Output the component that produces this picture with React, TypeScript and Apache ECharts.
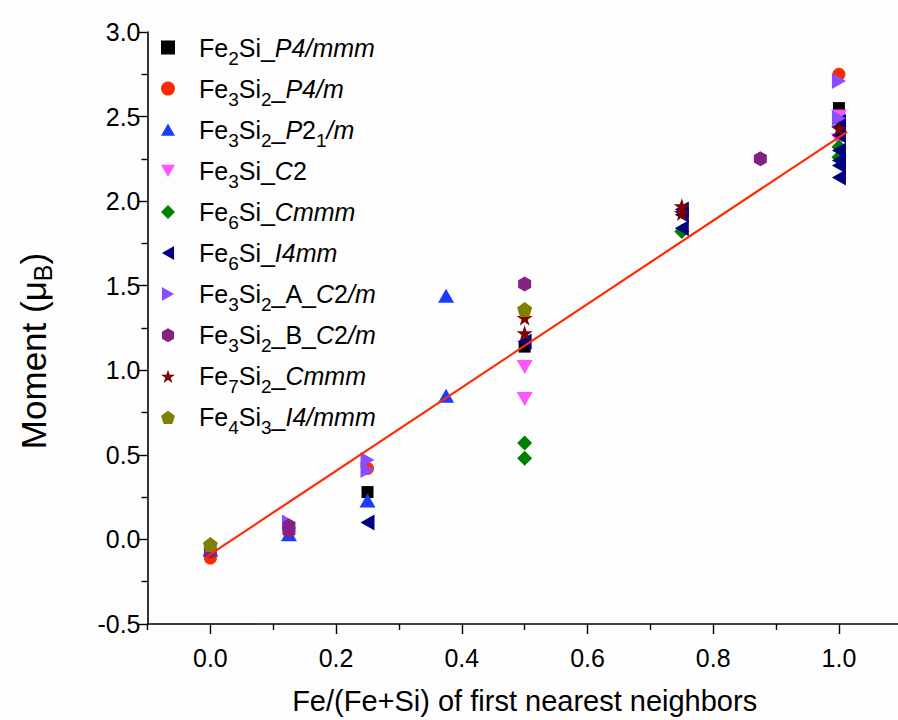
import React, { useEffect, useRef } from "react";
import * as echarts from "echarts";

const seriesNames = [
  "Fe2Si_P4/mmm",
  "Fe3Si2_P4/m",
  "Fe3Si2_P21/m",
  "Fe3Si_C2",
  "Fe6Si_Cmmm",
  "Fe6Si_I4mm",
  "Fe3Si2_A_C2/m",
  "Fe3Si2_B_C2/m",
  "Fe7Si2_Cmmm",
  "Fe4Si3_I4/mmm",
];

const legendRich = [
  "{g| }{n|Fe}{s|2}{n|Si_}{i|P4/mmm}",
  "{g| }{n|Fe}{s|3}{n|Si}{s|2}{n|_}{i|P4/m}",
  "{g| }{n|Fe}{s|3}{n|Si}{s|2}{n|_}{i|P}{n|2}{s|1}{i|/m}",
  "{g| }{n|Fe}{s|3}{n|Si_}{i|C}{n|2}",
  "{g| }{n|Fe}{s|6}{n|Si_}{i|Cmmm}",
  "{g| }{n|Fe}{s|6}{n|Si_}{i|I4mm}",
  "{g| }{n|Fe}{s|3}{n|Si}{s|2}{n|_A_}{i|C}{n|2}{i|/m}",
  "{g| }{n|Fe}{s|3}{n|Si}{s|2}{n|_B_}{i|C}{n|2}{i|/m}",
  "{g| }{n|Fe}{s|7}{n|Si}{s|2}{n|_}{i|Cmmm}",
  "{g| }{n|Fe}{s|4}{n|Si}{s|3}{n|_}{i|I4/mmm}",
];

// x values (Fe fraction) and moments per series
const fe2siX = [0.25, 0.5, 1.0];
const fe2siY = [0.28, 1.14, 2.55];
const p4mX = [0, 0.25, 1.0];
const p4mY = [-0.11, 0.42, 2.75];
const p21mX = [0, 0.125, 0.25, 0.375, 0.375];
const p21mY = [-0.06, 0.03, 0.23, 0.85, 1.44];
const c2X = [0.5, 0.5, 1.0, 1.0];
const c2Y = [1.02, 0.83, 2.5, 2.36];
const fe6cmmmX = [0.5, 0.5, 0.75, 1.0, 1.0];
const fe6cmmmY = [0.57, 0.48, 1.82, 2.32, 2.26];
const i4mmX = [0.25, 0.5, 0.75, 0.75, 0.75, 1.0, 1.0, 1.0, 1.0, 1.0, 1.0, 1.0];
const i4mmY = [0.1, 1.17, 1.95, 1.92, 1.84, 2.47, 2.44, 2.39, 2.3, 2.24, 2.21, 2.14];
const aC2mX = [0.125, 0.25, 0.25, 1.0, 1.0];
const aC2mY = [0.1, 0.47, 0.41, 2.71, 2.49];
const bC2mX = [0, 0.125, 0.125, 0.5, 0.875];
const bC2mY = [-0.07, 0.05, 0.08, 1.51, 2.25];
const fe7X = [0.5, 0.5, 0.75, 0.75, 1.0];
const fe7Y = [1.31, 1.22, 1.97, 1.93, 2.43];
const fe4X = [0, 0.5];
const fe4Y = [-0.03, 1.36];

const fitX = [-0.005, 1.013];
const fitY = [-0.1, 2.41];

const xLabelValues = [0, 0.2, 0.4, 0.6, 0.8, 1.0];
const xMinorValues = [-0.1, 0.1, 0.3, 0.5, 0.7, 0.9, 1.1];

const xs = [fe2siX, p4mX, p21mX, c2X, fe6cmmmX, i4mmX, aC2mX, bC2mX, fe7X, fe4X];
const ys = [fe2siY, p4mY, p21mY, c2Y, fe6cmmmY, i4mmY, aC2mY, bC2mY, fe7Y, fe4Y];

const colors = [
  "#000000",
  "#ff2a00",
  "#1a3cff",
  "#ff55ff",
  "#008000",
  "#000080",
  "#8a4dff",
  "#842284",
  "#800000",
  "#808000",
];

const symbols = [
  "rect",
  "circle",
  "path://M50,0L100,87L0,87z",
  "path://M0,0L100,0L50,87z",
  "diamond",
  "path://M87,0L87,100L0,50z",
  "path://M0,0L0,100L87,50z",
  "path://M50,0L93.3,25L93.3,75L50,100L6.7,75L6.7,25z",
  "path://M50,0L61.2,34.5L97.6,34.5L68.2,55.9L79.4,90.5L50,69.1L20.6,90.5L31.8,55.9L2.4,34.5L38.8,34.5z",
  "path://M50,0L97.6,34.5L79.4,90.5L20.6,90.5L2.4,34.5z",
];

const sizes: any[] = [12, 13, [16, 14], [16, 14], 15, [14, 16], [14, 16], [13, 15], 16, 15];

const FONT = "'Liberation Sans', Arial, sans-serif";

export default function App() {
  const ref = useRef<HTMLDivElement>(null);
  useEffect(() => {
    document.body.style.margin = "0";
    document.body.style.background = "#fdfdfd";
    const chart = echarts.init(ref.current!, null, { renderer: "svg" });
    const scatterSeries = seriesNames.map((name, k) => ({
      type: "scatter",
      name,
      symbol: symbols[k],
      symbolSize: sizes[k],
      itemStyle: { color: colors[k], opacity: 1 },
      data: xs[k].map((x, i) => [x, ys[k][i]]),
      xAxisIndex: 0,
      yAxisIndex: 0,
      z: 2,
    }));
    const option: any = {
      animation: false,
      backgroundColor: "#fdfdfd",
      textStyle: { fontFamily: FONT },
      grid: { left: 147.5, top: 32, width: 754.3, height: 592, outerBoundsMode: "none", containLabel: false },
      legend: {
        data: seriesNames,
        orient: "vertical",
        left: 156,
        top: 30,
        itemWidth: 14,
        itemHeight: 14,
        itemGap: 8.6,
        symbolRotate: "inherit",
        formatter: (name: string) => legendRich[seriesNames.indexOf(name)],
        textStyle: {
          fontFamily: FONT,
          color: "#000",
          rich: {
            g: { width: 19, fontSize: 22, lineHeight: 40 },
            n: { fontSize: 25, lineHeight: 40, color: "#000", fontFamily: FONT },
            i: { fontSize: 25, lineHeight: 40, fontStyle: "italic", color: "#000", fontFamily: FONT },
            s: { fontSize: 19, lineHeight: 40, verticalAlign: "bottom", color: "#000", fontFamily: FONT },
          },
        },
      },
      xAxis: [
        {
          type: "value",
          min: -0.1,
          max: 1.1,
          position: "bottom",
          name: "Fe/(Fe+Si) of first nearest neighbors",
          nameLocation: "middle",
          nameGap: 62,
          nameTextStyle: { fontSize: 29, color: "#000", fontFamily: FONT },
          axisLine: { show: true, onZero: false, lineStyle: { color: "#000", width: 1.6 } },
          axisTick: { show: true, length: 10, customValues: xLabelValues, lineStyle: { color: "#000", width: 1.4 } },
          axisLabel: {
            customValues: xLabelValues,
            formatter: (v: number) => v.toFixed(1),
            fontSize: 25,
            color: "#000",
            margin: 21,
            fontFamily: FONT,
          },
          splitLine: { show: false },
        },
        {
          type: "value",
          min: -0.1,
          max: 1.1,
          position: "top",
          offset: -592,
          axisLine: { show: false },
          axisTick: { show: true, inside: true, length: 6, customValues: xMinorValues, lineStyle: { color: "#000", width: 1.4 } },
          axisLabel: { show: false },
          splitLine: { show: false },
        },
      ],
      yAxis: {
        type: "value",
        min: -0.5,
        max: 3.0,
        interval: 0.5,
        name: "Moment ({n|μ}{s|B})",
        nameLocation: "middle",
        nameGap: 92,
        nameTextStyle: {
          fontSize: 35,
          color: "#000",
          fontFamily: FONT,
          padding: [0, 46, 0, 0],
          rich: {
            n: { fontSize: 35, lineHeight: 44, color: "#000", fontFamily: FONT },
            s: { fontSize: 25, lineHeight: 44, verticalAlign: "bottom", color: "#000", fontFamily: FONT },
          },
        },
        axisLine: { show: true, onZero: false, lineStyle: { color: "#000", width: 1.6 } },
        axisTick: { show: true, length: 10, lineStyle: { color: "#000", width: 1.4 } },
        minorTick: { show: true, splitNumber: 2, length: 6, lineStyle: { color: "#000", width: 1.4 } },
        axisLabel: {
          formatter: (v: number) => v.toFixed(1),
          fontSize: 25,
          color: "#000",
          margin: 7,
          fontFamily: FONT,
        },
        splitLine: { show: false },
      },
      series: [
        ...scatterSeries,
        {
          type: "line",
          name: "fit",
          data: fitX.map((x, i) => [x, fitY[i]]),
          showSymbol: false,
          symbol: "none",
          lineStyle: { color: "#ff2a00", width: 2.2 },
          itemStyle: { color: "#ff2a00" },
          z: 3,
          silent: true,
        },
      ],
    };
    chart.setOption(option);
    return () => chart.dispose();
  }, []);
  return <div ref={ref} style={{ width: 898, height: 720 }} />;
}
